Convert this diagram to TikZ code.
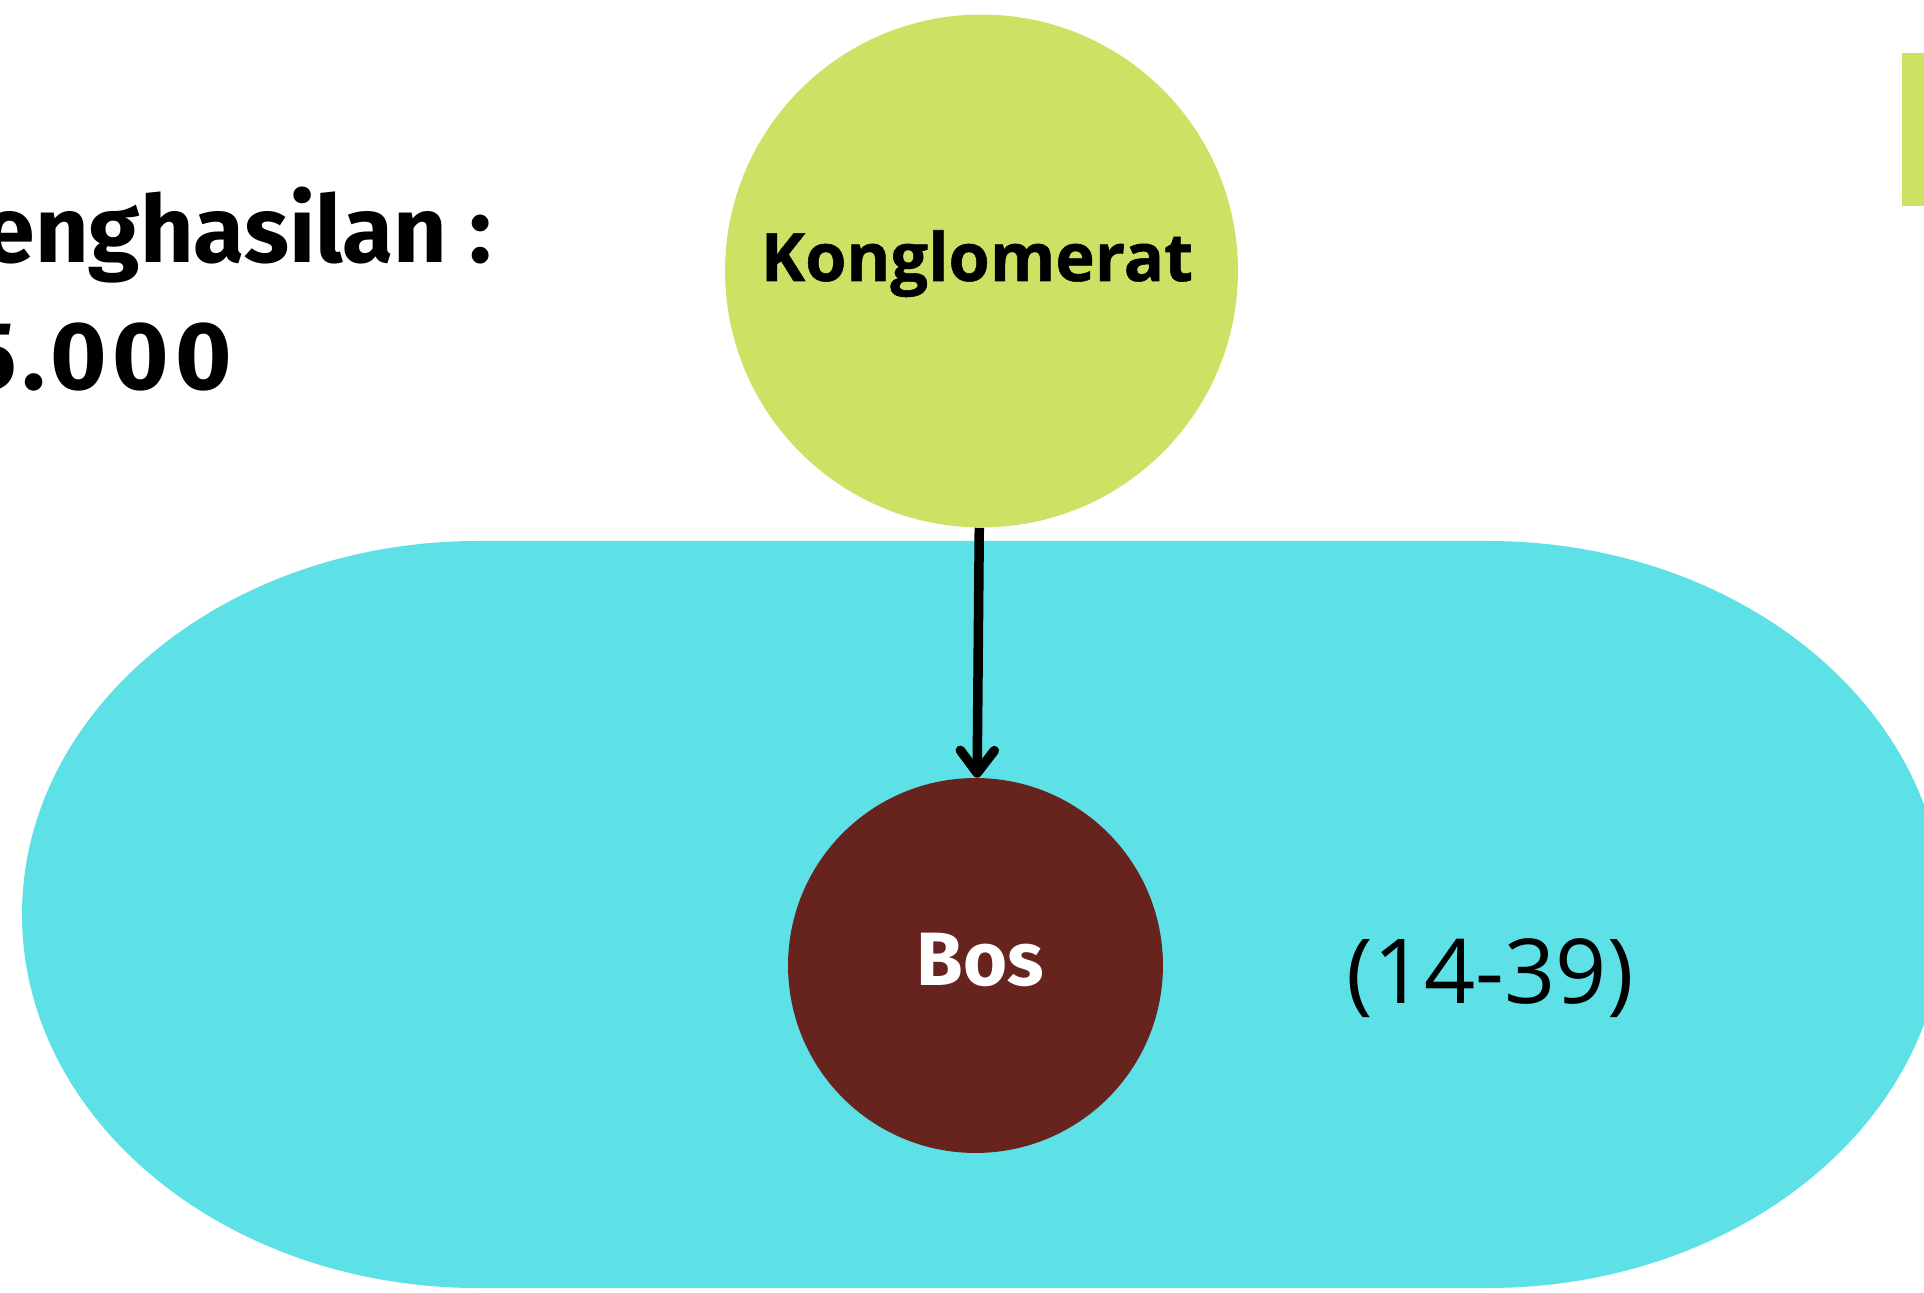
\documentclass[tikz,border=0pt]{standalone}
\usepackage{fontspec}
\setmainfont{Open Sans}[BoldFeatures={FakeBold=0.8}]
\newfontfamily\fira{Fira Sans}
\newfontfamily\firawide{Fira Sans}[LetterSpace=6]
\usetikzlibrary{arrows.meta,positioning}
\definecolor{lime}{RGB}{203,226,101}
\definecolor{teal}{RGB}{93,225,230}
\definecolor{maroon}{RGB}{103,35,30}

\begin{document}
\begin{tikzpicture}[x=0.02cm,y=-0.02cm,
    bubble/.style={circle,inner sep=0pt},
    txt/.style={inner sep=0pt}]
  \useasboundingbox (0,0) rectangle (1924,1293);

  % band behind the lower circle
  \fill[teal] (478,541) -- (1488,541) arc (-90:90:456 and 373.5)
    -- (478,1288) arc (90:270:456 and 373.5) -- cycle;
  \fill[lime] (1902,53) rectangle (1924,206);

  \node[bubble,fill=lime,minimum size=10.26cm] (konglo) at (981.5,271) {};
  \node[bubble,fill=maroon,minimum size=7.5cm] (bos) at (975.5,965.5) {};
  \node[txt,anchor=base] at (977,281)
    {\fontsize{38}{40}\selectfont\bfseries Konglomerat};
  \node[txt,anchor=base,text=white] at (980,985)
    {\fontsize{43}{44}\fira\bfseries Bos};

  \draw[line width=0.19cm,-{Straight Barb[round,length=0.45cm,width=0.68cm]}]
    (konglo) -- (bos);

  \node[txt,anchor=base] (usia) at (1490,1003)
    {\fontsize{51}{52}\selectfont (14-39)};
  \node[txt,anchor=base east] (gaji) at (492,263)
    {\fontsize{53}{54}\fira\bfseries enghasilan :};
  \node[txt,anchor=base east] (nilai) at (232,390)
    {\fontsize{55}{56}\firawide\bfseries 5.000};
\end{tikzpicture}
\end{document}
